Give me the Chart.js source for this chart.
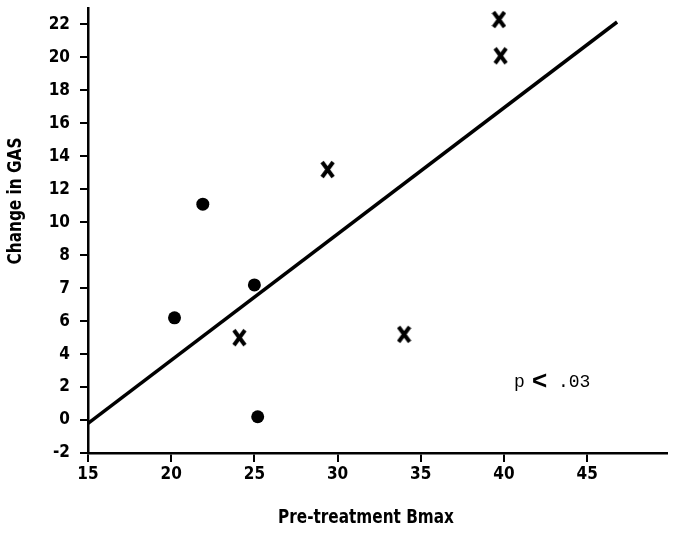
<!DOCTYPE html>
<html>
<head>
<meta charset="utf-8">
<script src="https://cdn.jsdelivr.net/npm/chart.js@4"></script>
<style>
  body { margin: 0; background: #fff; }
  .chart-container { width: 675px; height: 534px; position: relative; }
</style>
</head>
<body>
<div class="chart-container"><canvas id="chart"></canvas></div>
<script>
// values
const yTickLabels = [-2, 0, 2, 4, 6, 7, 8, 10, 12, 14, 16, 18, 20, 22];
const xTickLabels = [15, 20, 25, 30, 35, 40, 45];

const dotX = [20.2, 21.9, 25.0, 25.2];
const dotY = [6.1, 11.1, 7.1, 0.2];

const crossX = [24.1, 29.4, 34.0, 39.7, 39.8];
const crossY = [5.0, 13.2, 5.2, 22.3, 20.1];

const fitX = [15, 46.8];
const fitY = [-0.2, 22.15];

const narrow = "'DejaVu Sans Condensed', 'DejaVu Sans', sans-serif";

// the printed y axis has evenly spaced ticks with an uneven step (6, 7, 8),
// so values are placed on the tick index
function toAxis(v) {
  for (let i = 0; i < yTickLabels.length - 1; i++) {
    const a = yTickLabels[i], b = yTickLabels[i + 1];
    if (v <= b || i === yTickLabels.length - 2) {
      return i + (v - a) / (b - a);
    }
  }
}

const pts = (xs, ys) => xs.map((x, i) => ({ x: x, y: toAxis(ys[i]) }));

// letter-like X marker, a bit taller than wide
const xMark = document.createElement('canvas');
xMark.width = 15;
xMark.height = 19;
const mctx = xMark.getContext('2d');
mctx.strokeStyle = '#000';
mctx.lineWidth = 4;
mctx.beginPath();
mctx.moveTo(2, 2); mctx.lineTo(13, 17);
mctx.moveTo(13, 2); mctx.lineTo(2, 17);
mctx.stroke();

const textPlugin = {
  id: 'texts',
  afterDraw(chart) {
    const ctx = chart.ctx;
    const xs = chart.scales.x, ys = chart.scales.y;
    ctx.save();
    ctx.fillStyle = '#000';
    ctx.textBaseline = 'middle';
    ctx.textAlign = 'center';
    ctx.font = 'bold 20px ' + narrow;
    ctx.save();
    ctx.translate(366, 518);
    ctx.scale(0.85, 1);
    ctx.fillText('Pre-treatment Bmax', 0, 0);
    ctx.restore();
    ctx.translate(16, 201);
    ctx.rotate(-Math.PI / 2);
    ctx.scale(0.85, 1);
    ctx.fillText('Change in GAS', 0, 0);
    ctx.restore();

    ctx.save();
    ctx.fillStyle = '#000';
    ctx.textBaseline = 'middle';
    ctx.textAlign = 'left';
    const px = xs.getPixelForValue(40.6);
    const py = ys.getPixelForValue(toAxis(2.3));
    ctx.font = '18px "Liberation Mono", monospace';
    ctx.fillText('p', px, py);
    ctx.font = 'bold 26px "Liberation Sans", sans-serif';
    ctx.fillText('<', px + 18, py);
    ctx.font = '18px "Liberation Mono", monospace';
    ctx.fillText('.03', px + 44, py);
    ctx.restore();
  }
};

new Chart(document.getElementById('chart'), {
  data: {
    datasets: [
      {
        type: 'line',
        data: pts(fitX, fitY),
        borderColor: '#000',
        borderWidth: 3.5,
        pointRadius: 0,
        fill: false,
      },
      {
        type: 'scatter',
        data: pts(dotX, dotY),
        pointStyle: 'circle',
        pointRadius: 6.5,
        backgroundColor: '#000',
        borderWidth: 0,
      },
      {
        type: 'scatter',
        data: pts(crossX, crossY),
        pointStyle: xMark,
        pointRadius: 7,
      },
    ],
  },
  options: {
    responsive: true,
    maintainAspectRatio: false,
    animation: false,
    layout: { padding: { top: 5, right: 5, left: 0, bottom: 0 } },
    plugins: { legend: { display: false }, tooltip: { enabled: false } },
    scales: {
      x: {
        type: 'linear',
        min: 15,
        max: 49.8,
        afterBuildTicks: s => { s.ticks = xTickLabels.map(v => ({ value: v })); },
        afterFit: s => { s.height = 81; s.paddingLeft = 0; s.paddingRight = 0; },
        border: { color: '#000', width: 2.5 },
        grid: { drawOnChartArea: false, color: '#000', lineWidth: 2, tickLength: 9 },
        ticks: { color: '#000', padding: 2, font: { family: narrow, size: 17, weight: 'bold', style: 'condensed' } },
      },
      y: {
        type: 'linear',
        min: 0,
        max: 13.5,
        afterBuildTicks: s => { s.ticks = yTickLabels.map((v, i) => ({ value: i })); },
        afterFit: s => { s.width = 88; s.paddingTop = 0; s.paddingBottom = 0; },
        border: { color: '#000', width: 2.5 },
        grid: { drawOnChartArea: false, color: '#000', lineWidth: 2, tickLength: 8 },
        ticks: {
          color: '#000',
          padding: 10,
          font: { family: narrow, size: 17, weight: 'bold', style: 'condensed' },
          callback: v => yTickLabels[v],
        },
      },
    },
  },
  plugins: [textPlugin],
});
</script>
</body>
</html>
